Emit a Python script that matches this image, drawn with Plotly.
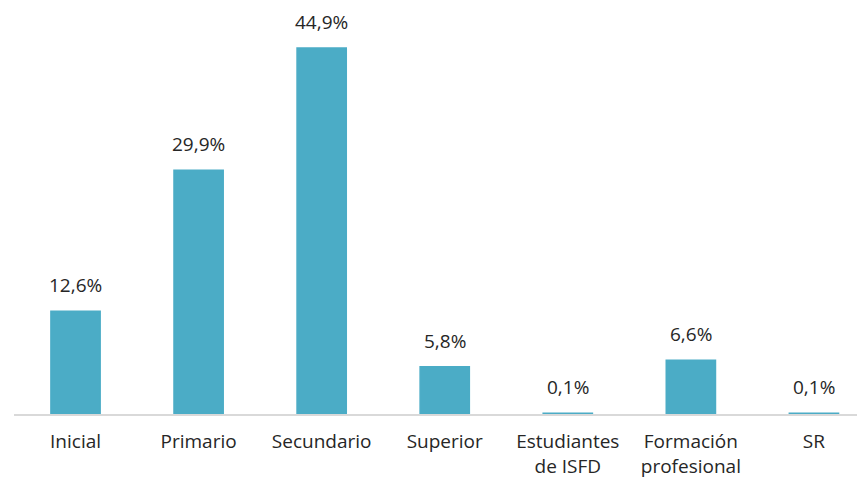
import plotly.graph_objects as go

categorias = ["Inicial", "Primario", "Secundario", "Superior",
              "Estudiantes<br>de ISFD", "Formación<br>profesional", "SR"]
porcentajes = [12.6, 29.9, 44.9, 5.8, 0.1, 6.6, 0.1]
etiquetas = ["12,6%", "29,9%", "44,9%", "5,8%", "0,1%", "6,6%", "0,1%"]

BAR = "#4BACC6"
TXT = "#262626"
FONT = "Open Sans"

# thin outline in the fill colour so the 0.1% bars stay visible as teal lines
fig = go.Figure(go.Bar(
    x=list(range(len(categorias))),
    y=porcentajes,
    marker=dict(color=BAR, line=dict(width=1.5, color=BAR)),
    width=0.4,
    hoverinfo="skip",
))

for i, (v, t) in enumerate(zip(porcentajes, etiquetas)):
    fig.add_annotation(x=i, y=v, text=t, showarrow=False, yanchor="bottom",
                       yshift=11, font=dict(family=FONT, size=19, color=TXT))

# the page body adds an 8px offset, margins compensate for it
fig.update_layout(
    width=865, height=479,
    margin=dict(l=6, r=0, t=0, b=73),
    paper_bgcolor="white", plot_bgcolor="white",
    showlegend=False,
    font=dict(family=FONT, size=19, color=TXT),
)
fig.update_xaxes(
    tickmode="array", tickvals=list(range(len(categorias))), ticktext=categorias,
    range=[-0.5, 6.48], showgrid=False, zeroline=False,
    showline=True, linecolor="#d9d9d9", linewidth=2, ticks="",
    layer="below traces",
    ticklabelstandoff=9, tickfont=dict(family=FONT, size=19, color=TXT),
)
fig.update_yaxes(range=[0, 49.8], visible=False, showgrid=False, zeroline=False)

fig.write_html("out.html")
